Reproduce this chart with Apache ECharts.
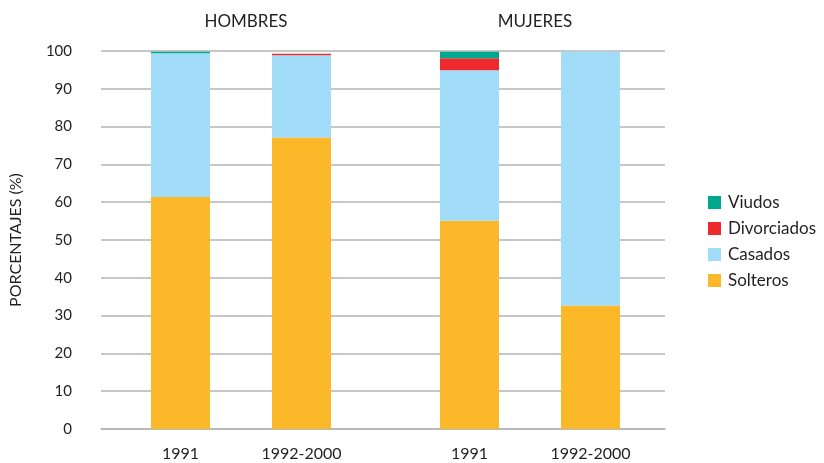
<!DOCTYPE html>
<html lang="es">
<head>
<meta charset="UTF-8">
<title>Estado civil</title>
<script src="https://cdn.jsdelivr.net/npm/echarts@6/dist/echarts.min.js"></script>
<style>
  html, body { margin: 0; padding: 0; background: #fff; }
  #chart { width: 824px; height: 463px; }
</style>
</head>
<body>
<div id="chart"></div>
<script>
// periodos y grupos
var periodos = ['1991', '1992-2000'];
var grupos = ['HOMBRES', 'MUJERES'];
var yTicks = [0, 10, 20, 30, 40, 50, 60, 70, 80, 90, 100];

// porcentajes, [1991, 1992-2000]
var hombresSolteros = [61.4, 77.1];
var hombresCasados = [38.0, 21.8];
var hombresDivorciados = [0, 0.4];
var hombresViudos = [0.4, 0];

var mujeresSolteros = [55.1, 32.7];
var mujeresCasados = [39.8, 67.1];
var mujeresDivorciados = [3.2, 0];
var mujeresViudos = [1.7, 0];

var colores = {
  Solteros: '#fbb829',
  Casados: '#a1dcf8',
  Divorciados: '#ee2a2e',
  Viudos: '#00a88e'
};

var fuente = 'Lato';
var gris = '#b5b5b5';

var chart = echarts.init(document.getElementById('chart'));

function barras(nombre, datos, idx) {
  return {
    name: nombre,
    type: 'bar',
    stack: 'g' + idx,
    xAxisIndex: idx,
    yAxisIndex: idx,
    barWidth: 59,
    itemStyle: { color: colores[nombre] },
    data: datos
  };
}

var ejeXGrupo = function (idx) {
  return {
    type: 'category',
    gridIndex: idx,
    data: periodos,
    axisLine: { show: false },
    axisTick: { show: false },
    axisLabel: { color: '#231f20', fontSize: 16, fontFamily: fuente, margin: 17 }
  };
};

var ejeYOculto = function (idx) {
  return {
    type: 'value', gridIndex: idx, min: 0, max: 100, interval: 10,
    show: false, splitLine: { show: false }
  };
};

chart.setOption({
  animation: false,
  textStyle: { fontFamily: fuente },
  title: [
    { text: grupos[0], left: 241, top: 8, textAlign: 'center',
      textStyle: { fontSize: 17, fontWeight: 'normal', color: '#231f20', fontFamily: fuente } },
    { text: grupos[1], left: 530, top: 8, textAlign: 'center',
      textStyle: { fontSize: 17, fontWeight: 'normal', color: '#231f20', fontFamily: fuente } }
  ],
  legend: {
    orient: 'vertical',
    left: 703,
    top: 189,
    itemWidth: 13,
    itemHeight: 13,
    itemGap: 9,
    icon: 'rect',
    data: ['Viudos', 'Divorciados', 'Casados', 'Solteros'],
    textStyle: { fontSize: 17, color: '#231f20', fontFamily: fuente, padding: [0, 0, 0, 2] }
  },
  grid: [
    { left: 100, right: 159, top: 51, bottom: 34 },
    { left: 120, width: 242, top: 51, bottom: 34 },
    { left: 409, width: 242, top: 51, bottom: 34 }
  ],
  xAxis: [
    {
      type: 'category', gridIndex: 0, data: [''],
      axisLine: { lineStyle: { color: gris, width: 1.5 } },
      axisTick: { show: false }, axisLabel: { show: false }
    },
    ejeXGrupo(1),
    ejeXGrupo(2)
  ],
  yAxis: [
    {
      type: 'value', gridIndex: 0, min: yTicks[0], max: yTicks[yTicks.length - 1], interval: 10,
      name: 'PORCENTAJES (%)',
      nameLocation: 'middle',
      nameGap: 77,
      nameTextStyle: { fontSize: 16, color: '#231f20', fontFamily: fuente },
      axisLine: { show: false },
      axisTick: { show: false },
      axisLabel: { color: '#231f20', fontSize: 15, fontFamily: fuente, margin: 29 },
      splitLine: { lineStyle: { color: gris, width: 1.5 } }
    },
    ejeYOculto(1),
    ejeYOculto(2)
  ],
  series: [
    barras('Solteros', hombresSolteros, 1),
    barras('Casados', hombresCasados, 1),
    barras('Divorciados', hombresDivorciados, 1),
    barras('Viudos', hombresViudos, 1),
    barras('Solteros', mujeresSolteros, 2),
    barras('Casados', mujeresCasados, 2),
    barras('Divorciados', mujeresDivorciados, 2),
    barras('Viudos', mujeresViudos, 2)
  ]
});
</script>
</body>
</html>
